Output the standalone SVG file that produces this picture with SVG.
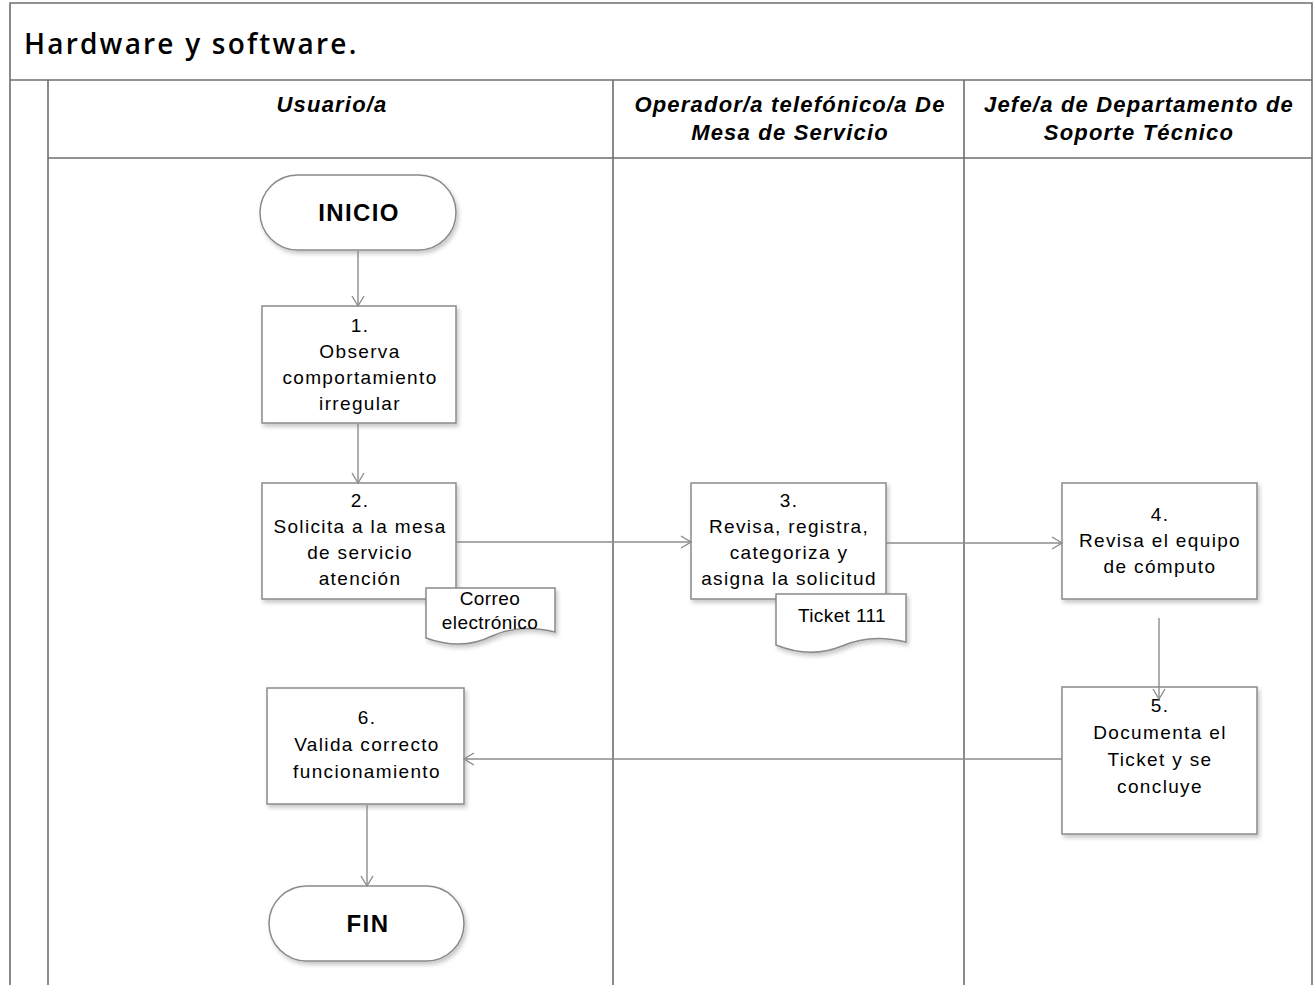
<svg xmlns="http://www.w3.org/2000/svg" width="1314" height="985" viewBox="0 0 1314 985">
  <style>
    .frame { fill: none; stroke: #6e6e6e; stroke-width: 1.6; }
    .box { fill: #ffffff; stroke: #8a8a8a; stroke-width: 1.5; filter: url(#shadow); }
    .conn { fill: none; stroke: #8c8c8c; stroke-width: 1.4; marker-end: url(#arrow); }
    .title { font-family: "Open Sans", "DejaVu Sans", sans-serif; font-size: 28px; font-weight: 600; fill: #000; letter-spacing: 2.2px; }
    .lane { font-family: "Liberation Sans", Arial, sans-serif; font-size: 22px; font-style: italic; font-weight: bold; fill: #000; text-anchor: middle; letter-spacing: 1.2px; }
    .txt { font-family: "Liberation Sans", Arial, sans-serif; font-size: 19px; fill: #000; text-anchor: middle; letter-spacing: 1.35px; }
    .doc { font-family: "Liberation Sans", Arial, sans-serif; font-size: 19px; fill: #000; text-anchor: middle; letter-spacing: 0.4px; }
    .term { font-family: "Liberation Sans", Arial, sans-serif; font-size: 24px; font-weight: bold; fill: #000; text-anchor: middle; letter-spacing: 1.4px; }
  </style>
  <defs>
    <filter id="shadow" x="-10%" y="-10%" width="125%" height="125%">
      <feDropShadow dx="2" dy="3" stdDeviation="2" flood-color="#000" flood-opacity="0.22"/>
    </filter>
    <marker id="arrow" markerWidth="14" markerHeight="14" refX="11" refY="7" orient="auto" markerUnits="userSpaceOnUse">
      <path d="M1,1 L11,7 L1,13" fill="none" stroke="#8c8c8c" stroke-width="1.4"/>
    </marker>
  </defs>

  <rect width="1314" height="985" fill="#ffffff"/>

  <!-- swimlane frame -->
  <g id="frame">
    <path class="frame" d="M10,985 V3 H1312 V985"/>
    <line class="frame" x1="10" y1="80" x2="1312" y2="80"/>
    <line class="frame" x1="48" y1="80" x2="48" y2="985"/>
    <line class="frame" x1="48" y1="158" x2="1312" y2="158"/>
    <line class="frame" x1="613" y1="80" x2="613" y2="985"/>
    <line class="frame" x1="964" y1="80" x2="964" y2="985"/>
    <text class="title" x="24" y="54">Hardware y software.</text>
    <text class="lane" x="332" y="112">Usuario/a</text>
    <text class="lane" x="790" y="112">Operador/a telefónico/a De</text>
    <text class="lane" x="790" y="140">Mesa de Servicio</text>
    <text class="lane" x="1139" y="112">Jefe/a de Departamento de</text>
    <text class="lane" x="1139" y="140">Soporte Técnico</text>
  </g>

  <g id="inicio">
    <rect class="box" x="260" y="175" width="196" height="75" rx="37.5"/>
    <text class="term" x="359" y="221">INICIO</text>
  </g>

  <g id="paso1">
    <rect class="box" x="262" y="306" width="194" height="117"/>
    <text class="txt" x="360" y="332">1.</text>
    <text class="txt" x="360" y="358">Observa</text>
    <text class="txt" x="360" y="384">comportamiento</text>
    <text class="txt" x="360" y="410">irregular</text>
  </g>

  <g id="paso2">
    <rect class="box" x="262" y="483" width="194" height="116"/>
    <text class="txt" x="360" y="507">2.</text>
    <text class="txt" x="360" y="533">Solicita a la mesa</text>
    <text class="txt" x="360" y="559">de servicio</text>
    <text class="txt" x="360" y="585">atención</text>
  </g>

  <g id="correo">
    <path class="box" d="M426,588 H555 V632 C532,626 510,628 492,636 C470,647 448,646 426,638 Z"/>
    <text class="doc" x="490" y="605">Correo</text>
    <text class="doc" x="490" y="629">electrónico</text>
  </g>

  <g id="paso3">
    <rect class="box" x="691" y="483" width="195" height="116"/>
    <text class="txt" x="789" y="507">3.</text>
    <text class="txt" x="789" y="533">Revisa, registra,</text>
    <text class="txt" x="789" y="559">categoriza y</text>
    <text class="txt" x="789" y="585">asigna la solicitud</text>
  </g>

  <g id="ticket">
    <path class="box" d="M776,594 H906 V642 C882,636 860,638 842,646 C820,655 798,654 776,645 Z"/>
    <text class="doc" x="842" y="622">Ticket 111</text>
  </g>

  <g id="paso4">
    <rect class="box" x="1062" y="483" width="195" height="116"/>
    <text class="txt" x="1160" y="521">4.</text>
    <text class="txt" x="1160" y="547">Revisa el equipo</text>
    <text class="txt" x="1160" y="573">de cómputo</text>
  </g>

  <g id="paso5">
    <rect class="box" x="1062" y="687" width="195" height="147"/>
    <text class="txt" x="1160" y="712">5.</text>
    <text class="txt" x="1160" y="739">Documenta el</text>
    <text class="txt" x="1160" y="766">Ticket y se</text>
    <text class="txt" x="1160" y="793">concluye</text>
  </g>

  <g id="paso6">
    <rect class="box" x="267" y="688" width="197" height="116"/>
    <text class="txt" x="367" y="724">6.</text>
    <text class="txt" x="367" y="751">Valida correcto</text>
    <text class="txt" x="367" y="778">funcionamiento</text>
  </g>

  <g id="fin">
    <rect class="box" x="269" y="886" width="195" height="75" rx="37.5"/>
    <text class="term" x="368" y="932">FIN</text>
  </g>

  <!-- connectors -->
  <g id="connectors">
    <line class="conn" x1="358" y1="251" x2="358" y2="306"/>
    <line class="conn" x1="358" y1="424" x2="358" y2="483"/>
    <line class="conn" x1="456" y1="542" x2="691" y2="542"/>
    <line class="conn" x1="886" y1="543" x2="1062" y2="543"/>
    <line class="conn" x1="1159" y1="618" x2="1159" y2="699"/>
    <line class="conn" x1="1062" y1="759" x2="464" y2="759"/>
    <line class="conn" x1="367" y1="805" x2="367" y2="886"/>
  </g>
</svg>
